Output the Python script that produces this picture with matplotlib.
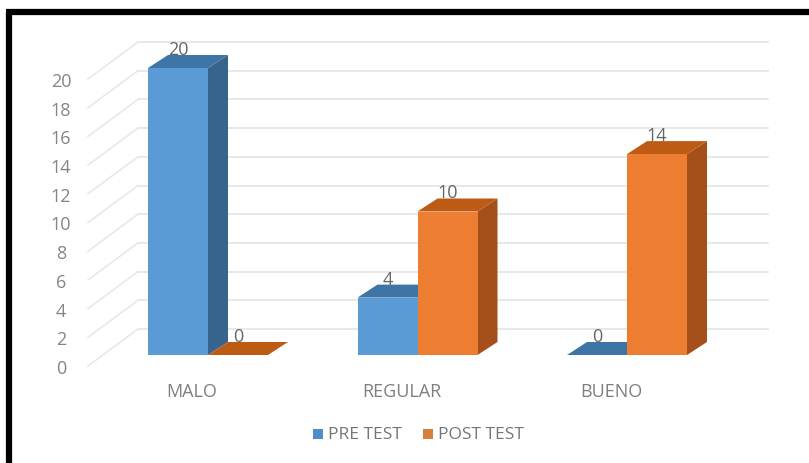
import matplotlib
matplotlib.use("Agg")
import matplotlib.pyplot as plt
from matplotlib.patches import Polygon, Rectangle

categories = ['MALO', 'REGULAR', 'BUENO']
pre_test = [20, 4, 0]
post_test = [0, 10, 14]
y_ticks = list(range(0, 22, 2))

plt.rcParams['font.family'] = ['Open Sans', 'DejaVu Sans']

W, H = 809, 463
PX_X = 209.5       # pixels between categories
PX_Y = 14.35       # pixels per unit of value
X0, Y0 = 208, 355  # pixel of first category centre, value 0 on the bars

fig = plt.figure(figsize=(W / 100, H / 100), dpi=100)
ax = fig.add_axes([0, 0, 1, 1])
ax.set_xlim(-X0 / PX_X, (W - X0) / PX_X)
ax.set_ylim(-(H - Y0) / PX_Y, Y0 / PX_Y)
ax.axis('off')

bar_w = 60 / PX_X
depth_x = 20 / PX_X
depth_y = 13 / PX_Y

# floor/back wall offsets of the 3d box
back_y = (Y0 - 329) / PX_Y
front_y = (Y0 - 366) / PX_Y
wall_left = (88 - X0) / PX_X
wall_back = (138 - X0) / PX_X
wall_right = (768 - X0) / PX_X

for v in y_ticks:
    ax.plot([wall_back, wall_right], [v + back_y, v + back_y], color='#e4e4e4', lw=1.2, zorder=1)
    ax.plot([wall_left, wall_back], [v + front_y, v + back_y], color='#e8e8e8', lw=1.2, zorder=1)
    ax.text((61 - X0) / PX_X, v + front_y - 3 / PX_Y, str(v), color='#858585', fontsize=13,
            ha='center', va='center', zorder=5)


def draw_bar(x, v, front, side, top):
    ax.add_patch(Polygon([(x + bar_w, 0), (x + bar_w + depth_x, depth_y),
                          (x + bar_w + depth_x, v + depth_y), (x + bar_w, v)],
                         fc=side, ec='none', zorder=3))
    ax.add_patch(Polygon([(x, v), (x + bar_w, v), (x + bar_w + depth_x, v + depth_y),
                          (x + depth_x, v + depth_y)], fc=top, ec='none', zorder=3))
    ax.add_patch(Rectangle((x, 0), bar_w, v, fc=front, ec='none', zorder=4))
    ax.text(x + bar_w / 2, v + depth_y + 5 / PX_Y, str(v), color='#666666', fontsize=13,
            ha='center', va='center', zorder=6)


for i, name in enumerate(categories):
    draw_bar(i - bar_w, pre_test[i], '#5b9bd5', '#37648c', '#3f74a6')
    draw_bar(i, post_test[i], '#ed7d31', '#a5501b', '#bd5b15')
    ax.text(i - 16 / PX_X, (Y0 - 392) / PX_Y, name, color='#7f7f7f', fontsize=13,
            ha='center', va='center')

# legend
leg_y = (Y0 - 434) / PX_Y
for px, color, label in [(313, '#4f8fc9', 'PRE TEST'), (423, '#d5803f', 'POST TEST')]:
    ax.add_patch(Rectangle(((px - X0) / PX_X, leg_y - 5 / PX_Y), 10 / PX_X, 10 / PX_Y, fc=color, ec='none'))
    ax.text((px + 15 - X0) / PX_X, leg_y - 1 / PX_Y, label, color='#757575', fontsize=12.5, ha='left', va='center')

# black picture frame
ax.plot([(9 - X0) / PX_X, (9 - X0) / PX_X], [-(H - Y0) / PX_Y, (Y0 - 12) / PX_Y], color='black', lw=4.5, solid_capstyle='butt')
ax.plot([(6 - X0) / PX_X, (W - X0) / PX_X], [(Y0 - 12) / PX_Y, (Y0 - 12) / PX_Y], color='black', lw=4.5, solid_capstyle='butt')

fig.savefig('out.png', dpi=100)
